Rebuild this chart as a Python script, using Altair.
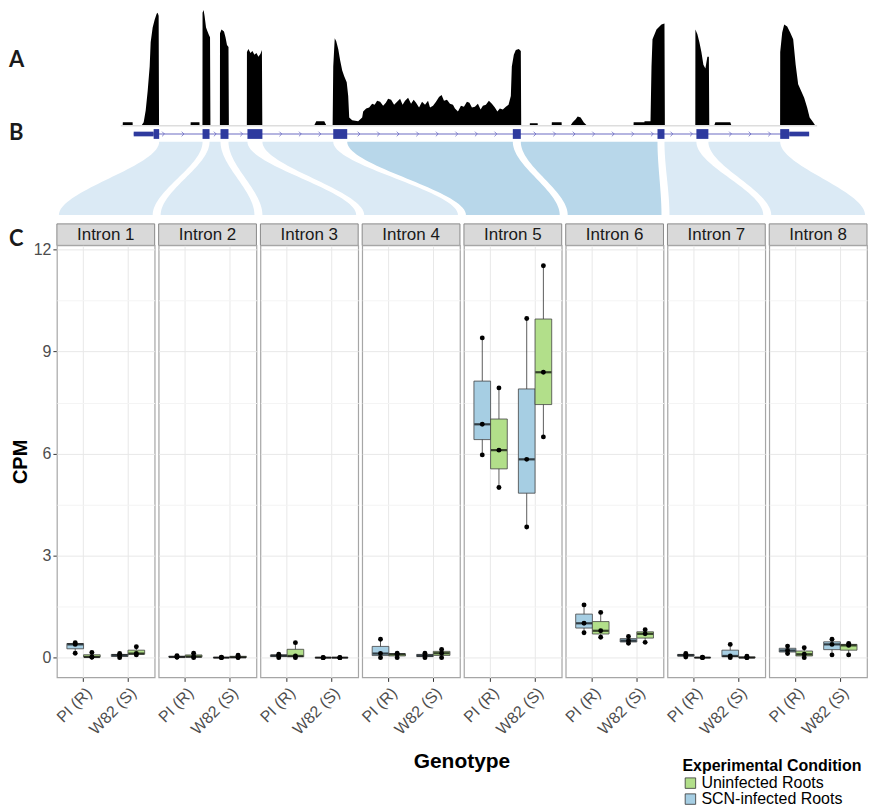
import altair as alt
import pandas as pd
import numpy as np

# ---------------- data ----------------
introns = [f"Intron {i}" for i in range(1, 9)]
genotypes = ["PI (R)", "W82 (S)"]
conditions = ["SCN-infected Roots", "Uninfected Roots"]
legend_order = ["Uninfected Roots", "SCN-infected Roots"]

# CPM, three replicates per intron (Intron 1 .. Intron 8)
cpm_pi_scn = [[0.13, 0.39, 0.44], [0.01, 0.02, 0.06], [0.0, 0.06, 0.10], [0.0, 0.12, 0.54],
              [5.96, 6.86, 9.40], [0.73, 1.01, 1.55], [0.02, 0.07, 0.12], [0.12, 0.21, 0.34]]
cpm_pi_uninf = [[0.01, 0.02, 0.15], [0.0, 0.03, 0.13], [0.0, 0.05, 0.44], [0.0, 0.10, 0.13],
                [5.00, 6.10, 7.93], [0.60, 0.79, 1.33], [0.0, 0.0, 0.01], [0.0, 0.10, 0.29]]
cpm_w82_scn = [[0.0, 0.07, 0.12], [0.0, 0.0, 0.01], [0.0, 0.0, 0.0], [0.0, 0.06, 0.13],
               [3.84, 5.83, 9.97], [0.42, 0.50, 0.62], [0.0, 0.05, 0.39], [0.08, 0.39, 0.54]]
cpm_w82_uninf = [[0.08, 0.12, 0.32], [0.0, 0.01, 0.07], [0.0, 0.0, 0.0], [0.0, 0.13, 0.24],
                 [6.49, 8.39, 11.52], [0.45, 0.70, 0.82], [0.0, 0.0, 0.04], [0.08, 0.36, 0.42]]

# read coverage track (position along gene, relative depth)
coverage = [
    (122, 0), (122.1, 3), (131.9, 3), (132, 0),
    (141, 0), (143, 3), (145, 15), (146, 25), (147, 35), (149, 60), (150, 85), (152, 100),
    (154, 108), (156, 114), (157, 115), (158, 112), (158.4, 0),
    (190, 0), (190.1, 3), (198.9, 3), (199, 0),
    (201.9, 0), (202, 115), (203, 118), (204, 112), (205.5, 100), (207, 96), (208.5, 92),
    (209.5, 90), (209.9, 0),
    (219.4, 0), (219.5, 94), (221, 98), (223.5, 96), (225, 90), (226.5, 82), (228, 80), (228.4, 0),
    (246.4, 0), (246.5, 75), (248, 78), (250, 74), (252, 76), (254, 72), (256, 74), (258, 70),
    (260, 73), (261.5, 77), (261.9, 0),
    (314, 0), (316, 4), (324, 4), (326, 0),
    (332.4, 0), (333, 60), (334.5, 89), (336, 86), (338, 78), (340, 66), (342, 56), (344, 50),
    (346.5, 44), (348, 30), (349, 8), (352, 5), (358, 4), (362, 8), (363, 14), (366, 17), (369, 18),
    (372, 22), (374.5, 21), (377, 25), (380, 24), (383, 20), (385.7, 23), (388, 27), (391, 26),
    (394, 21), (397, 24), (400, 27), (402.5, 21), (405, 25), (408, 28), (411, 22), (413.6, 26),
    (416, 23), (419, 18), (422, 24), (425, 21), (428, 25), (430, 18), (433, 20), (436, 24),
    (439, 29), (441.6, 31), (444, 25), (447, 26), (450, 22), (453, 21), (455, 17), (458, 14),
    (461, 20), (464, 19), (467, 24), (469.5, 23), (472, 18), (475, 19), (478, 22), (480.7, 16),
    (483, 20), (486, 21), (489, 25), (492, 22), (495, 18), (497.5, 14), (500, 17), (503, 16),
    (506, 19), (508.7, 21), (511, 30), (512, 60), (514, 72), (516, 77), (519, 78), (521, 76),
    (521.4, 0),
    (530, 0), (530.1, 2), (537.9, 2), (538, 0),
    (552, 0), (552.1, 3), (561.9, 3), (562, 0),
    (571, 0), (573, 3), (576, 6), (578, 9), (581, 8), (584, 3), (587, 0),
    (634, 0), (634.1, 3), (644.9, 3), (645, 4), (651, 4), (652, 60), (653, 88), (657, 98),
    (662, 103), (665, 104), (665.4, 0),
    (695.9, 0), (696, 98), (698, 93), (700, 85), (702, 75), (704, 62), (706, 58), (708, 70),
    (709.5, 70), (709.9, 0),
    (715, 0), (716, 3), (731, 3), (732, 0),
    (780.9, 0), (781, 75), (783, 95), (785, 103), (788, 101), (791, 95), (794, 88), (796.5, 62),
    (799, 42), (802, 35), (805, 28), (808, 18), (810.5, 8), (814, 3), (816, 0),
]

# gene model (same positional units as coverage)
exons = [(153, 158.5), (202, 209), (220, 228), (247, 262), (333, 347),
         (513, 521), (658, 665), (697, 709), (781, 790)]
utrs = [(133, 153), (790, 810)]
dark_ribbons = ["Intron 5", "Intron 6"]
panel_letters = ["A", "B", "C"]

# ---------------- layout constants ----------------
PANEL_W, GAP, PANEL_H = 98, 4, 433
X0 = 56                      # left edge of first panel (in top chart coordinates)
TOP_W = 8 * PANEL_W + 7 * GAP
Y_TOP, Y_BOT = 3, 244        # vertical coordinate span of the top chart

blue, green = "#a6cee3", "#b2df8a"
font = "Liberation Sans"

# ---------------- boxplot data ----------------
rows = []
for i, intron in enumerate(introns):
    for g, c, arr in [("PI (R)", conditions[0], cpm_pi_scn), ("PI (R)", conditions[1], cpm_pi_uninf),
                      ("W82 (S)", conditions[0], cpm_w82_scn), ("W82 (S)", conditions[1], cpm_w82_uninf)]:
        for v in arr[i]:
            rows.append({"intron": intron, "genotype": g, "condition": c, "cpm": v})
df = pd.DataFrame(rows)

y_scale = alt.Scale(domain=[-0.58, 12.12], nice=False, zero=False)
y_axis = alt.Axis(
    title="CPM", values=[0, 1.5, 3, 4.5, 6, 7.5, 9, 10.5, 12],
    labelExpr="datum.value % 3 == 0 ? format(datum.value, 'd') : ''",
    tickColor={"condition": {"test": "datum.value % 3 == 0", "value": "#333333"}, "value": "transparent"},
    gridColor={"condition": {"test": "datum.value % 3 == 0", "value": "#e8e8e8"}, "value": "#f4f4f4"},
    labelFontSize=16, labelColor="#4d4d4d", titleFontSize=20, titleFontWeight="bold",
    titleColor="black", domain=False, tickSize=4, labelPadding=2, titlePadding=3,
)
x_axis = alt.Axis(
    title=None, labelAngle=-45, labelAlign="right", labelBaseline="top", labelFontSize=16,
    labelColor="#4d4d4d", tickColor="#333333", tickSize=4, grid=True, gridColor="#e8e8e8",
    domain=False, labelPadding=3,
)
x_enc = alt.X("genotype:N", sort=genotypes, scale=alt.Scale(paddingInner=0, paddingOuter=0.1), axis=x_axis)
xo_enc = alt.XOffset("condition:N", scale=alt.Scale(domain=conditions, paddingInner=0, paddingOuter=0.333))

agg = alt.Chart().transform_aggregate(
    lo="min(cpm)", q1="q1(cpm)", med="median(cpm)", q3="q3(cpm)", hi="max(cpm)",
    groupby=["intron", "genotype", "condition"],
)
whisker = agg.mark_rule(color="#333333", strokeWidth=0.8).encode(
    x=x_enc, xOffset=xo_enc, y=alt.Y("lo:Q", scale=y_scale, axis=y_axis), y2="hi:Q")
box = agg.mark_bar(stroke="#444444", strokeWidth=0.8).encode(
    x=x_enc, xOffset=xo_enc, y=alt.Y("q1:Q", scale=y_scale, axis=y_axis), y2="q3:Q",
    color=alt.Color("condition:N", scale=alt.Scale(domain=legend_order, range=[green, blue]),
                    legend=alt.Legend(title="Experimental Condition", orient="none", legendX=627,
                                      legendY=750, symbolType="square", symbolSize=110,
                                      symbolStrokeColor="#333333", symbolStrokeWidth=0.8,
                                      titleFontSize=16, titleFontWeight="bold", titleColor="black",
                                      labelFontSize=16, labelColor="black", rowPadding=-1,
                                      titlePadding=1, labelOffset=3, padding=0)))
median = agg.mark_tick(color="black", thickness=2.2, size=16).encode(
    x=x_enc, xOffset=xo_enc, y=alt.Y("med:Q", scale=y_scale, axis=y_axis))
points = alt.Chart().mark_circle(color="black", size=24, opacity=1).encode(
    x=x_enc, xOffset=xo_enc, y=alt.Y("cpm:Q", scale=y_scale, axis=y_axis))

facet = alt.layer(whisker, box, median, points, data=df).properties(
    width=PANEL_W, height=PANEL_H
).facet(
    column=alt.Column("intron:N", sort=introns, title="Genotype",
                      header=alt.Header(labels=False, titleOrient="bottom", titleFontSize=21,
                                        titleFontWeight="bold", titleColor="black", titleFont=font,
                                        titlePadding=4)),
    spacing=GAP,
).properties(bounds="flush")

# ---------------- top panel (coverage, gene model, ribbons, strips) ----------------
xs = alt.Scale(domain=[X0, X0 + TOP_W], nice=False, zero=False)
ys = alt.Scale(domain=[Y_BOT, Y_TOP], nice=False, zero=False)
X = lambda f: alt.X(f, scale=xs, axis=None)
Y = lambda f: alt.Y(f, scale=ys, axis=None)

cov_df = pd.DataFrame(coverage, columns=["pos", "depth"])
cov = alt.Chart(cov_df).transform_calculate(ytop="121 - datum.depth").mark_area(
    color="black", interpolate="linear").encode(
    x=X("pos:Q"), y=Y("ytop:Q"), y2=alt.datum(121))
one = pd.DataFrame({"a": [0]})
cov_base = alt.Chart(one).mark_rule(color="#dddddd", strokeWidth=1.5).encode(
    x=alt.X(datum=120, scale=xs, axis=None), x2=alt.datum(818), y=alt.Y(datum=121.5, scale=ys, axis=None))

gene_line = alt.Chart(one).mark_rule(color="#6a6ac2", strokeWidth=1).encode(
    x=alt.X(datum=133, scale=xs, axis=None), x2=alt.datum(810), y=alt.Y(datum=130, scale=ys, axis=None))
exon_df = pd.DataFrame(exons, columns=["s", "e"])
utr_df = pd.DataFrame(utrs, columns=["s", "e"])
exon_marks = alt.Chart(exon_df).mark_rect(color="#2e3a9e").encode(
    x=X("s:Q"), x2="e:Q", y=alt.Y(datum=125, scale=ys, axis=None), y2=alt.datum(135))
utr_marks = alt.Chart(utr_df).mark_rect(color="#2e3a9e").encode(
    x=X("s:Q"), x2="e:Q", y=alt.Y(datum=127.6, scale=ys, axis=None), y2=alt.datum(132.4))

# chevrons along introns
blocks = exons + utrs
chev = []
p = 143.0
while p < 806:
    if not any(s - 3 <= p <= e + 3 for s, e in blocks):
        chev.append(p)
    p += 19.6
intron_spans = [(exons[i][1], exons[i + 1][0]) for i in range(8)]
for s, e in intron_spans:
    if not any(s < c < e for c in chev):
        chev.append((s + e) / 2)
chev_marks = alt.Chart(pd.DataFrame({"p": chev})).mark_point(
    shape="M-0.5,-1L0.5,0L-0.5,1", filled=False, size=22, strokeWidth=1, color="#5c5cbf").encode(
    x=X("p:Q"), y=alt.Y(datum=130, scale=ys, axis=None))

# ribbons connecting each intron to its panel
rib_rows = []
tvals = [round(v, 4) for v in np.linspace(0, 1, 41)]
for k, intron in enumerate(introns):
    left = X0 + k * (PANEL_W + GAP)
    rib_rows.append({"intron": intron, "tl": intron_spans[k][0], "tr": intron_spans[k][1],
                     "bl": left + 2, "br": left + PANEL_W - 2,
                     "dark": intron in dark_ribbons, "t": tvals})
rib_df = pd.DataFrame(rib_rows)
rib_base = alt.Chart(rib_df).transform_flatten(["t"]).transform_calculate(
    s="3*datum.t*datum.t - 2*datum.t*datum.t*datum.t",
    yy="138 + 75*datum.t",
    xl="datum.tl + (datum.bl - datum.tl)*datum.s",
    xr="datum.tr + (datum.br - datum.tr)*datum.s",
)
rib_light = rib_base.transform_filter("!datum.dark").mark_area(orient="horizontal", color="#dbeaf5").encode(
    y=Y("yy:Q"), x=X("xl:Q"), x2="xr:Q", detail="intron:N")
rib_dark = rib_base.transform_filter("datum.dark").mark_area(orient="horizontal", color="#b8d7ea").encode(
    y=Y("yy:Q"), x=X("xl:Q"), x2="xr:Q", detail="intron:N")

# strip headers
strip_df = pd.DataFrame({
    "intron": introns,
    "l": [X0 + k * (PANEL_W + GAP) for k in range(8)],
})
strip_df["r"] = strip_df["l"] + PANEL_W
strip_df["c"] = strip_df["l"] + PANEL_W / 2
strips = alt.Chart(strip_df).mark_rect(fill="#d9d9d9", stroke="#8a8a8a", strokeWidth=1).encode(
    x=X("l:Q"), x2="r:Q", y=alt.Y(datum=222, scale=ys, axis=None), y2=alt.datum(244))
strip_text = alt.Chart(strip_df).mark_text(font=font, fontSize=17, color="#1a1a1a").encode(
    x=X("c:Q"), y=alt.Y(datum=233.5, scale=ys, axis=None), text="intron:N")

letters = alt.Chart(pd.DataFrame({"L": panel_letters, "y": [54, 129, 238]})).mark_text(
    font="Lato", fontWeight="bold", fontSize=22, align="left", baseline="middle", color="#1a1a1a",
    dx=-48).encode(
    x=alt.X(datum=X0, scale=xs, axis=None), y=Y("y:Q"), text="L:N")

top = alt.layer(cov, cov_base, rib_light, rib_dark, gene_line, chev_marks, utr_marks, exon_marks,
                strips, strip_text, letters).properties(
    width=TOP_W, height=Y_BOT - Y_TOP - 5, view=alt.ViewBackground(stroke="transparent"))

chart = alt.vconcat(top, facet, spacing=0, bounds="flush").properties(padding=0).configure(
    font=font
).configure_view(stroke="#a6a6a6", strokeWidth=1.2).configure_axis(
    labelFont=font, titleFont=font
).configure_legend(labelFont=font, titleFont=font)

chart.save("out.html", embed_options={"renderer": "svg", "actions": False})
